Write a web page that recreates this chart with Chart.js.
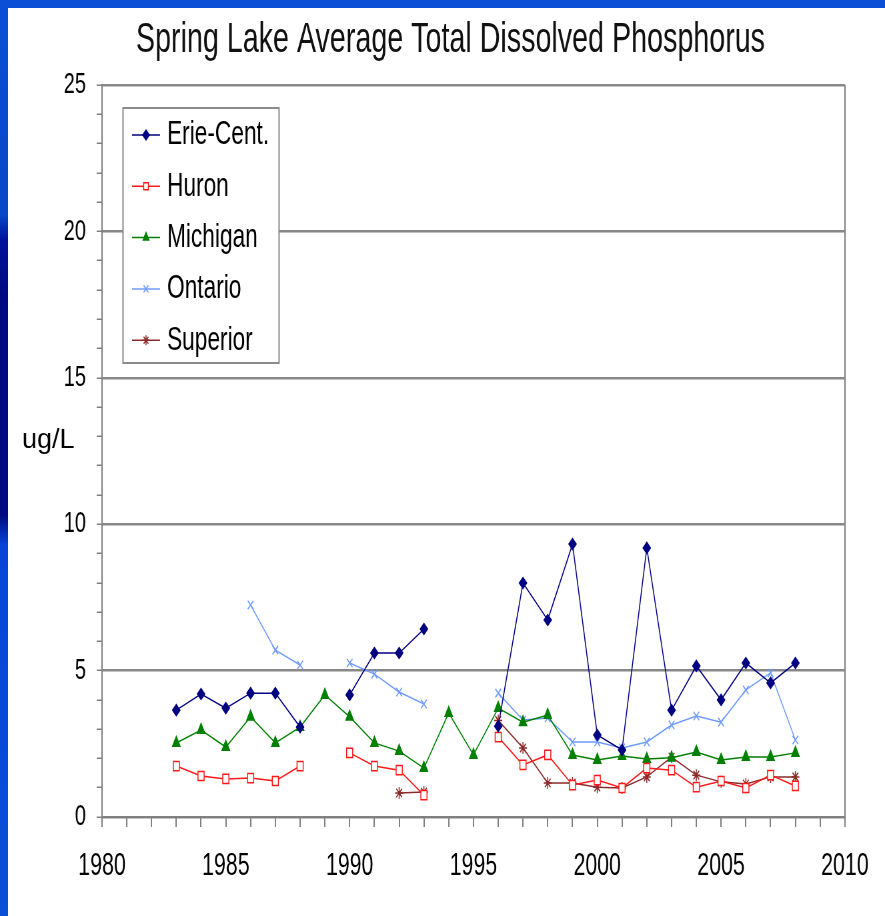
<!DOCTYPE html>
<html>
<head>
<meta charset="utf-8">
<title>Spring Lake Average Total Dissolved Phosphorus</title>
<script src="https://cdn.jsdelivr.net/npm/chart.js@4.4.1/dist/chart.umd.min.js"></script>
<style>
  html, body { margin: 0; padding: 0; }
  body {
    width: 885px; height: 916px; overflow: hidden; position: relative;
    background: linear-gradient(180deg, #0a4fd6 0px, #0847c8 215px, #00129a 240px, #000a80 300px, #000a80 515px, #0645d8 545px, #0a4fd6 916px);
  }
  #panel { position: absolute; left: 8px; top: 8px; width: 877px; height: 908px; background: #fff; overflow: hidden; }
  #chart { display: block; }
</style>
</head>
<body>
<div id="panel"><canvas id="chart"></canvas></div>
<script>
// Valores (ug/L por ano)
const years = [1983, 1984, 1985, 1986, 1987, 1988, 1989, 1990, 1991, 1992, 1993, 1994, 1995,
               1996, 1997, 1998, 1999, 2000, 2001, 2002, 2003, 2004, 2005, 2006, 2007, 2008];
const erieCent = [3.65, 4.2, 3.72, 4.23, 4.23, 3.07, null, 4.17, 5.6, 5.6, 6.42, null, null,
                  3.1, 7.99, 6.73, 9.32, 2.8, 2.29, 9.19, 3.65, 5.16, 4.0, 5.26, 4.58, 5.26];
const huron = [1.74, 1.4, 1.3, 1.33, 1.23, 1.74, null, 2.19, 1.74, 1.6, 0.75, null, null,
               2.73, 1.78, 2.12, 1.09, 1.26, 0.99, 1.67, 1.6, 1.02, 1.23, 0.99, 1.43, 1.06];
const michigan = [2.53, 2.97, 2.39, 3.42, 2.53, 3.07, 4.17, 3.42, 2.53, 2.25, 1.67, 3.55, 2.12,
                  3.72, 3.24, 3.48, 2.12, 1.95, 2.08, 1.98, 2.02, 2.22, 1.95, 2.05, 2.05, 2.19];
const ontario = [null, null, null, 7.24, 5.7, 5.19, null, 5.26, 4.88, 4.27, 3.86, null, null,
                 4.23, 3.31, 3.38, 2.56, 2.56, 2.36, 2.56, 3.14, 3.45, 3.24, 4.34, 4.92, 2.63];
const superior = [null, null, null, null, null, null, null, null, null, 0.82, 0.85, null, null,
                  3.3, 2.36, 1.16, 1.16, 1.02, 0.99, 1.37, 2.05, 1.43, 1.2, 1.13, 1.37, 1.37];

const xLabelYears = [1980, 1985, 1990, 1995, 2000, 2005, 2010];
const yLabelValues = [0, 5, 10, 15, 20, 25];
const chartTitle = 'Spring Lake Average Total Dissolved Phosphorus';
const yUnit = 'ug/L';

// O slide original está comprimido na horizontal; desenha-se largo e estreita-se por CSS
const SQUEEZE = 0.667;
const PANEL_W = 877, PANEL_H = 908;
const PLOT = { left: 94, right: 837, top: 77, bottom: 809 };
const CANVAS_W = Math.round(PANEL_W / SQUEEZE);
const LEFT_PAD = 72; // desloca o centro do título para a direita
const FONT = '"Liberation Sans", Arial, sans-serif';
const AXIS_GRAY = '#808080';
const TITLE_SIZE = 43;

function series(label, values, color, style, radius, fill) {
    return {
        label,
        data: years.map((yr, i) => ({ x: yr, y: values[i] })),
        borderColor: color,
        backgroundColor: color,
        borderWidth: 1.5,
        pointStyle: style,
        pointRadius: radius,
        pointHoverRadius: radius,
        pointBackgroundColor: fill || color,
        pointBorderColor: color,
        pointBorderWidth: 1.5,
        tension: 0,
        spanGaps: false
    };
}

// Legenda com caixa dentro da área do gráfico
const boxLegend = {
    id: 'boxLegend',
    afterDatasetsDraw(chart) {
        const ctx = chart.ctx, area = chart.chartArea;
        const x0 = area.left + 31.5, y0 = area.top + 23, w = 234, h = 255;
        ctx.save();
        ctx.fillStyle = '#fff';
        ctx.strokeStyle = '#8a8a8a';
        ctx.lineWidth = 2;
        ctx.fillRect(x0, y0, w, h);
        ctx.strokeRect(x0, y0, w, h);
        ctx.font = '34px ' + FONT;
        ctx.textBaseline = 'middle';
        chart.data.datasets.forEach((ds, i) => {
            const cy = y0 + 27 + i * 51.3;
            ctx.strokeStyle = ds.borderColor;
            ctx.lineWidth = 1.5;
            ctx.beginPath();
            ctx.moveTo(x0 + 13.5, cy);
            ctx.lineTo(x0 + 55.5, cy);
            ctx.stroke();
            ctx.fillStyle = ds.pointBackgroundColor;
            ctx.strokeStyle = ds.pointBorderColor;
            ctx.lineWidth = ds.pointBorderWidth;
            Chart.helpers.drawPoint(ctx, { pointStyle: ds.pointStyle, radius: 5, rotation: 0, borderWidth: ds.pointBorderWidth }, x0 + 34.5, cy);
            ctx.fillStyle = '#000';
            ctx.fillText(ds.label, x0 + 66, cy);
        });
        ctx.restore();
    }
};

// Rótulo "ug/L" horizontal, sem a compressão do resto do slide
const unitLabel = {
    id: 'unitLabel',
    afterDraw(chart) {
        const ctx = chart.ctx;
        ctx.save();
        ctx.translate(14 / SQUEEZE, 440);
        ctx.scale(1 / SQUEEZE, 1);
        ctx.font = '27px ' + FONT;
        ctx.fillStyle = '#000';
        ctx.textBaseline = 'alphabetic';
        ctx.fillText(yUnit, 0, 0);
        ctx.restore();
    }
};

document.addEventListener('DOMContentLoaded', () => {
    const canvas = document.getElementById('chart');
    canvas.width = CANVAS_W;
    canvas.height = PANEL_H;
    // estilo inline para o Chart.js não o substituir
    canvas.style.width = PANEL_W + 'px';
    canvas.style.height = PANEL_H + 'px';

    new Chart(canvas.getContext('2d'), {
        type: 'line',
        data: {
            datasets: [
                series('Erie-Cent.', erieCent, '#000080', 'rectRot', 5.5),
                series('Huron', huron, '#ff1a1a', 'rect', 6.5, '#ffffff'),
                series('Michigan', michigan, '#008000', 'triangle', 6.5),
                series('Ontario', ontario, '#6f9bff', 'crossRot', 6),
                series('Superior', superior, '#8b2a2a', 'star', 6)
            ]
        },
        options: {
            responsive: false,
            devicePixelRatio: 1,
            animation: false,
            events: [],
            layout: { padding: { left: LEFT_PAD, right: CANVAS_W - PLOT.right / SQUEEZE, top: 0, bottom: 0 } },
            plugins: {
                legend: { display: false },
                tooltip: { enabled: false },
                title: {
                    display: true,
                    text: chartTitle,
                    color: '#111',
                    font: { family: FONT, size: TITLE_SIZE, weight: 'normal', lineHeight: 1.2 },
                    padding: { top: 6, bottom: PLOT.top - 6 - TITLE_SIZE * 1.2 }
                }
            },
            scales: {
                x: {
                    type: 'linear',
                    min: 1980,
                    max: 2010,
                    afterFit: scale => { scale.height = PANEL_H - PLOT.bottom; },
                    ticks: {
                        stepSize: 1,
                        autoSkip: false,
                        maxRotation: 0,
                        padding: 20,
                        color: '#000',
                        font: { family: FONT, size: 32 },
                        callback: v => xLabelYears.includes(v) ? String(v) : ''
                    },
                    grid: {
                        drawOnChartArea: true,
                        color: c => (c.tick && c.tick.value === 2010) ? AXIS_GRAY : 'rgba(0,0,0,0)',
                        lineWidth: 2,
                        tickColor: AXIS_GRAY,
                        tickWidth: 2,
                        tickLength: 10
                    },
                    border: { display: true, color: AXIS_GRAY, width: 2 }
                },
                y: {
                    min: 0,
                    max: 25,
                    afterFit: scale => { scale.width = PLOT.left / SQUEEZE - LEFT_PAD; },
                    ticks: {
                        stepSize: 1,
                        autoSkip: false,
                        padding: 16,
                        color: '#000',
                        font: { family: FONT, size: 30 },
                        callback: v => yLabelValues.includes(v) ? String(v) : ''
                    },
                    grid: {
                        color: c => (c.tick && yLabelValues.includes(c.tick.value)) ? '#888888' : 'rgba(0,0,0,0)',
                        lineWidth: 2.5,
                        tickColor: AXIS_GRAY,
                        tickWidth: 1.5,
                        tickLength: 8
                    },
                    border: { display: true, color: AXIS_GRAY, width: 2 }
                }
            }
        },
        plugins: [boxLegend, unitLabel]
    });
});
</script>
</body>
</html>
